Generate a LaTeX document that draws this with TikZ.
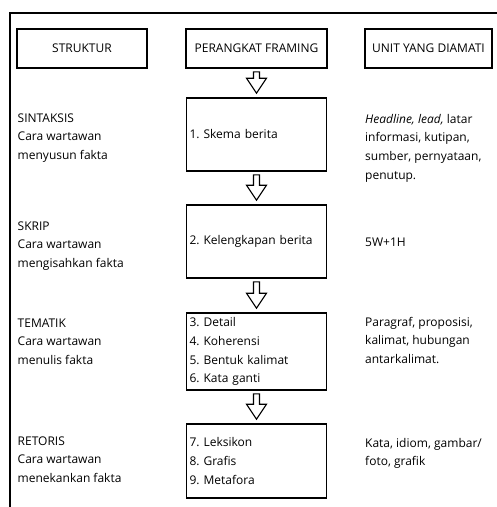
\documentclass[tikz,border=0pt]{standalone}
\usepackage{fontspec}
\setmainfont{Open Sans}
\usetikzlibrary{calc}

\newcommand{\txtfont}{\fontsize{12}{18.8}\selectfont\frenchspacing}

\tikzset{
    headbox/.style={draw, line width=1.6pt, minimum height=39pt, inner sep=0pt, font=\txtfont},
    stepbox/.style={draw, line width=1.6pt, text width=134pt, inner xsep=3pt, inner ysep=0pt, align=left, font=\txtfont},
    note/.style={anchor=base west, align=left, inner sep=0pt, font=\txtfont},
    hollow/.style={draw, line width=1.1pt, fill=white, line join=miter},
}

% hollow down arrow from one box to the next
\newcommand{\hollowarrow}[2]{%
    \draw[hollow] ($(#1.south)+(-3,3)$) -- ($(#2.north)+(-3,-19)$) -- ($(#2.north)+(-10,-19)$)
        -- ($(#2.north)+(0,-4)$) -- ($(#2.north)+(10,-19)$) -- ($(#2.north)+(3,-19)$)
        -- ($(#1.south)+(3,3)$) -- cycle;
}

\begin{document}
\begin{tikzpicture}[x=1pt, y=-1pt]
    \useasboundingbox (0,0) rectangle (497,507);

    % Outer frame (runs off the page on the right and bottom)
    \draw[line width=2.4pt] (10,510) |- (500,13);

    % Column heads
    \node[headbox, minimum width=130pt] (struktur) at (82,48.5) {STRUKTUR};
    \node[headbox, minimum width=141pt] (perangkat) at (256.5,48.5) {PERANGKAT FRAMING};
    \node[headbox, minimum width=127pt] (unit) at (428.5,48.5) {UNIT YANG DIAMATI};

    % Framing devices (middle column)
    \node[stepbox, minimum height=73pt] (skema) at (256.5,134.5) {1. Skema berita};
    \node[stepbox, minimum height=73pt] (lengkap) at (256.5,241.5) {2. Kelengkapan berita};
    \node[stepbox, minimum height=77pt] (detail) at (256.5,351.5) {3. Detail\\4. Koherensi\\5. Bentuk kalimat\\6. Kata ganti};
    \node[stepbox, minimum height=74pt] (leksikon) at (256.5,461) {7. Leksikon\\8. Grafis\\9. Metafora};

    % Arrows
    \hollowarrow{perangkat}{skema}
    \hollowarrow{skema}{lengkap}
    \hollowarrow{lengkap}{detail}
    \hollowarrow{detail}{leksikon}

    % Structures (left column), placed by the base of the last line
    \node[note] (sintaksis) at (17.5,159.6) {SINTAKSIS\\Cara wartawan\\menyusun fakta};
    \node[note] (skrip) at (17.5,267.6) {SKRIP\\Cara wartawan\\mengisahkan fakta};
    \node[note] (tematik) at (17.5,364.6) {TEMATIK\\Cara wartawan\\menulis fakta};
    \node[note] (retoris) at (17.5,482.6) {RETORIS\\Cara wartawan\\menekankan fakta};

    % Observed units (right column)
    \node[note] (unit1) at (365,179.4) {\textit{Headline, lead,} latar\\informasi, kutipan,\\sumber, pernyataan,\\penutup.};
    \node[note] (unit2) at (365,246.5) {5W+1H};
    \node[note] (unit3) at (365,363.6) {Paragraf, proposisi,\\kalimat, hubungan\\antarkalimat.};
    \node[note] (unit4) at (365,465.8) {Kata, idiom, gambar/\\foto, grafik};
\end{tikzpicture}
\end{document}
